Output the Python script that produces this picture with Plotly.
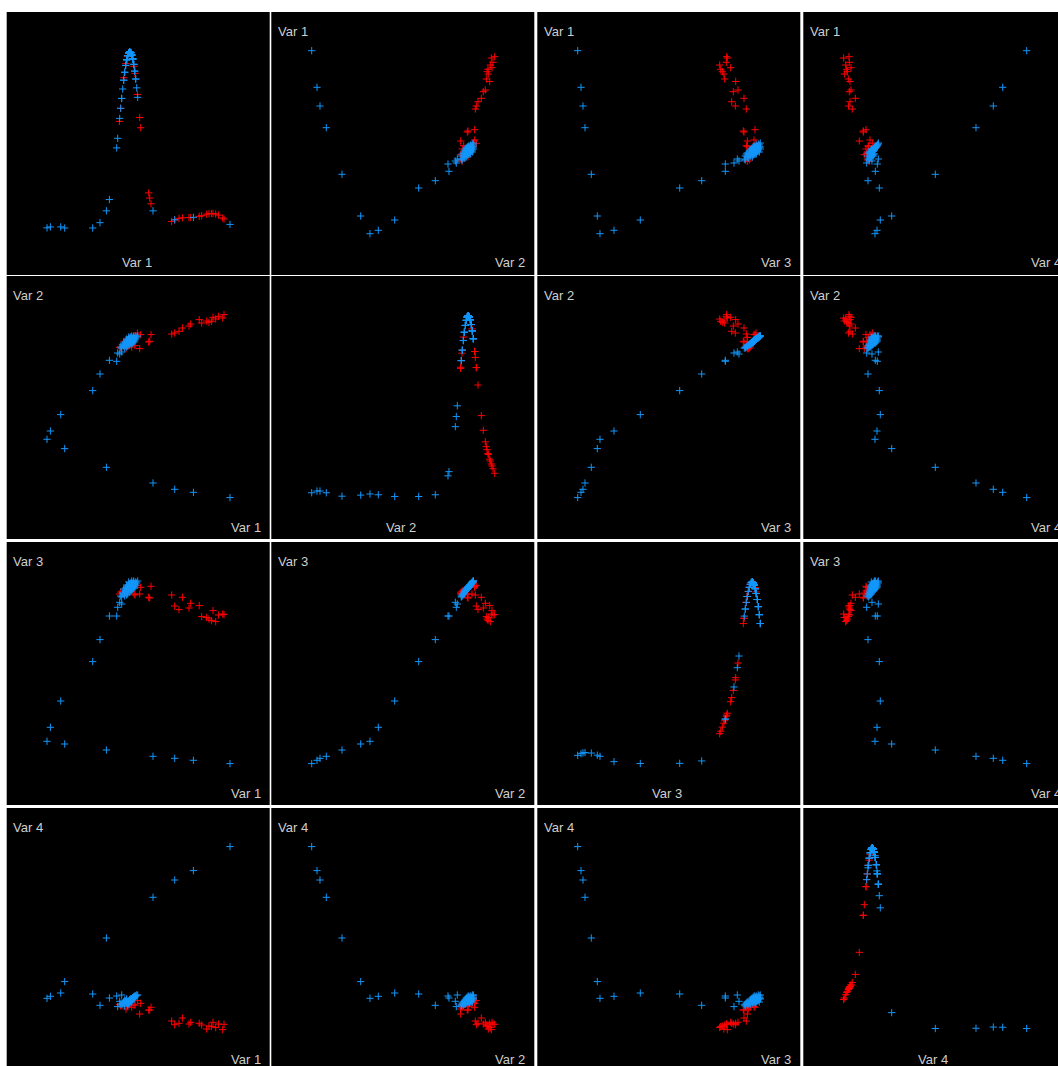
import numpy as np
import plotly.graph_objects as go

VAR_LABELS = ["Var 1", "Var 2", "Var 3", "Var 4"]

# ---- blue group: trail points (first 16), then the dense cluster ----
blue_v1 = [223.3, 186.7, 168.0, 146.3, 99.7, 58.0, 40.3, 43.7, 54.0, 86.0, 93.3, 102.7, 110.0, 111.0, 113.0, 115.0,
           115, 118, 114, 120, 117, 121, 116, 119, 123, 118, 122, 125, 120, 124, 117, 126, 121, 123, 127, 119,
           124, 122, 126, 120, 128, 123, 125, 121, 127, 124, 122, 126, 129, 124, 120, 125, 128, 123, 126, 130,
           124, 127, 122, 129, 125, 131, 127, 123, 125, 124, 122, 126, 124, 123, 125, 121, 124, 126, 123, 125]
blue_v2 = [40.4, 45.7, 48.7, 55.0, 70.7, 89.4, 98.7, 107.0, 123.4, 147.4, 164.0, 177.7, 176.7, 185.0, 184.0, 186.0,
           190, 190, 191, 191, 192, 192, 193, 193, 193, 194, 194, 194, 195, 195, 195, 195, 196, 196, 196, 196,
           197, 197, 197, 197, 197, 198, 198, 198, 198, 198, 199, 199, 199, 199, 199, 200, 200, 200, 200, 201,
           201, 201, 201, 202, 202, 202, 202, 197, 196, 197, 196, 198, 198, 197, 197, 196, 196, 197, 198, 199]
blue_v3 = [40.4, 43.7, 45.7, 47.7, 54.0, 60.0, 62.7, 76.7, 103.0, 142.4, 164.4, 188.0, 188.0, 196.7, 201.7, 200.0,
           207, 208, 208, 209, 210, 210, 211, 212, 212, 213, 213, 214, 214, 214, 215, 215, 215, 216, 216, 216,
           216, 217, 217, 217, 217, 218, 218, 218, 218, 218, 219, 219, 219, 219, 219, 220, 220, 220, 221, 221,
           221, 222, 222, 222, 223, 223, 223, 216, 216, 217, 215, 217, 217, 217, 216, 216, 215, 216, 218, 218]
blue_v4 = [223.4, 199.4, 190.0, 172.7, 132.0, 88.4, 71.7, 73.7, 77.0, 76.0, 64.7, 72.0, 74.0, 63.4, 68.7, 75.0,
           65, 64, 66, 67, 68, 65, 66, 69, 67, 70, 66, 68, 71, 69, 67, 72, 68, 70, 73, 69,
           71, 68, 72, 70, 74, 69, 71, 67, 73, 70, 69, 72, 74, 71, 68, 70, 73, 69, 71, 75,
           70, 72, 68, 74, 71, 75, 72, 69, 70, 70, 69, 71, 70, 70, 71, 68, 69, 71, 70, 71]

# ---- red group ----
red_v1 = [217.3, 216.0, 211.7, 209.0, 206.3, 204.7, 202.3, 200.0, 195.0, 192.5, 184.0, 182.3, 175.7, 172.3, 168.0,
          165.0, 144.3, 143.0, 142.0, 134.0, 133.0, 130.7, 128.3, 127.3, 125.0, 120.7, 119.3, 117.3, 114.0, 112.7]
red_v2 = [223.4, 220.0, 221.7, 219.0, 220.7, 216.7, 215.7, 217.0, 215.0, 218.4, 214.0, 212.0, 210.0, 206.7, 205.0,
          204.0, 203.4, 196.7, 196.0, 203.4, 189.4, 205.0, 192.4, 200.7, 191.0, 196.7, 189.3, 196.7, 190.0, 190.7]
red_v3 = [189.4, 190.0, 189.0, 182.4, 193.4, 183.4, 185.0, 186.5, 187.4, 198.4, 200.7, 196.0, 206.7, 194.4, 198.0,
          209.0, 217.7, 206.0, 206.7, 216.7, 210.0, 218.7, 209.0, 210.0, 213.0, 216.7, 211.0, 210.0, 212.0, 210.0]
red_v4 = [45.7, 40.4, 46.0, 42.4, 47.7, 43.4, 44.0, 41.0, 45.0, 46.7, 47.7, 46.0, 52.0, 46.7, 45.3,
          49.0, 62.7, 60.0, 60.0, 66.7, 56.0, 69.4, 65.0, 65.0, 62.7, 63.4, 61.0, 66.0, 64.0, 65.7]

BLUE = "rgb(18,150,250)"
RED = "rgb(255,0,0)"
TEXT = "#cfcfcf"

W, H = 1058, 1066
col_left = [6.7, 271.3, 537.3, 803.3]
row_top = [12.0, 276.0, 542.0, 808.0]
CELL = 263.0
BW = [9.0, 8.0, 10.0, 8.0]      # density bandwidth for the diagonal cells
BASE = [46.0, 41.5, 40.5, 41.5]  # where the lowest density sits in each diagonal cell
TOP = 222.0

blue = [blue_v1, blue_v2, blue_v3, blue_v4]
red = [red_v1, red_v2, red_v3, red_v4]


def density(vals, h):
    a = np.asarray(vals, float)
    return np.exp(-0.5 * ((a[:, None] - a[None, :]) / h) ** 2).sum(axis=1)


fig = go.Figure()
layout = {}
annotations = []
marker_style = dict(symbol="cross-thin", size=5.2)

for i in range(4):
    for j in range(4):
        k = i * 4 + j + 1
        xname = "x" if k == 1 else f"x{k}"
        yname = "y" if k == 1 else f"y{k}"
        x0 = col_left[j]
        x1 = min(x0 + CELL, W)
        t0 = row_top[i]
        b0 = min(t0 + CELL, H)
        xrange = [0, x1 - x0]
        yr_px = [t0 + CELL - 1 - b0, CELL - 1]
        if i == j:
            allv = list(blue[j]) + list(red[j])
            d = density(allv, BW[j])
            nb = len(blue[j])
            dmin, dmax = d.min(), d.max()
            base = BASE[j]
            s = (dmax - dmin) / (TOP - base)
            yrange = [dmin + (yr_px[0] - base) * s, dmin + (yr_px[1] - base) * s]
            rx, ry = red[j], d[nb:]
            bx, by = blue[j], d[:nb]
        else:
            yrange = yr_px
            rx, ry = red[j], red[i]
            bx, by = blue[j], blue[i]
        fig.add_trace(go.Scatter(x=rx, y=ry, mode="markers", xaxis=xname, yaxis=yname,
                                 marker=dict(color=RED, line=dict(color=RED, width=1), **marker_style),
                                 showlegend=False, hoverinfo="skip"))
        fig.add_trace(go.Scatter(x=bx, y=by, mode="markers", xaxis=xname, yaxis=yname,
                                 marker=dict(color=BLUE, line=dict(color=BLUE, width=1), **marker_style),
                                 showlegend=False, hoverinfo="skip"))
        axcommon = dict(showgrid=False, zeroline=False, showticklabels=False, ticks="",
                        showline=False, fixedrange=True)
        layout["xaxis" if k == 1 else f"xaxis{k}"] = dict(domain=[x0 / W, x1 / W], range=xrange,
                                                          anchor=yname, **axcommon)
        layout["yaxis" if k == 1 else f"yaxis{k}"] = dict(domain=[1 - b0 / H, 1 - t0 / H], range=yrange,
                                                          anchor=xname, **axcommon)
        font = dict(family="Liberation Sans, Arial, sans-serif", size=13, color=TEXT)
        ylab_bottom = 1 - (t0 + CELL - 12) / H
        if i != j:
            annotations.append(dict(text=VAR_LABELS[i], xref="paper", yref="paper",
                                    x=(x0 + 4.5) / W, y=1 - (t0 + 19.5) / H,
                                    xanchor="left", yanchor="middle", showarrow=False, font=font))
            if j == 3:
                annotations.append(dict(text=VAR_LABELS[j], xref="paper", yref="paper",
                                        x=(x0 + CELL - 37) / W, y=ylab_bottom,
                                        xanchor="left", yanchor="middle", showarrow=False, font=font))
            else:
                annotations.append(dict(text=VAR_LABELS[j], xref="paper", yref="paper",
                                        x=(x0 + CELL - 7) / W, y=ylab_bottom,
                                        xanchor="right", yanchor="middle", showarrow=False, font=font))
        else:
            annotations.append(dict(text=VAR_LABELS[j], xref="paper", yref="paper",
                                    x=(x0 + CELL / 2 - 1.5) / W, y=ylab_bottom,
                                    xanchor="center", yanchor="middle", showarrow=False, font=font))

fig.update_layout(width=W, height=H, margin=dict(l=0, r=0, t=0, b=0),
                  paper_bgcolor="white", plot_bgcolor="black",
                  annotations=annotations, **layout)
fig.write_html("out.html", config={"displayModeBar": False},
               post_script="document.body.style.margin='0px';document.body.style.overflow='hidden';")
